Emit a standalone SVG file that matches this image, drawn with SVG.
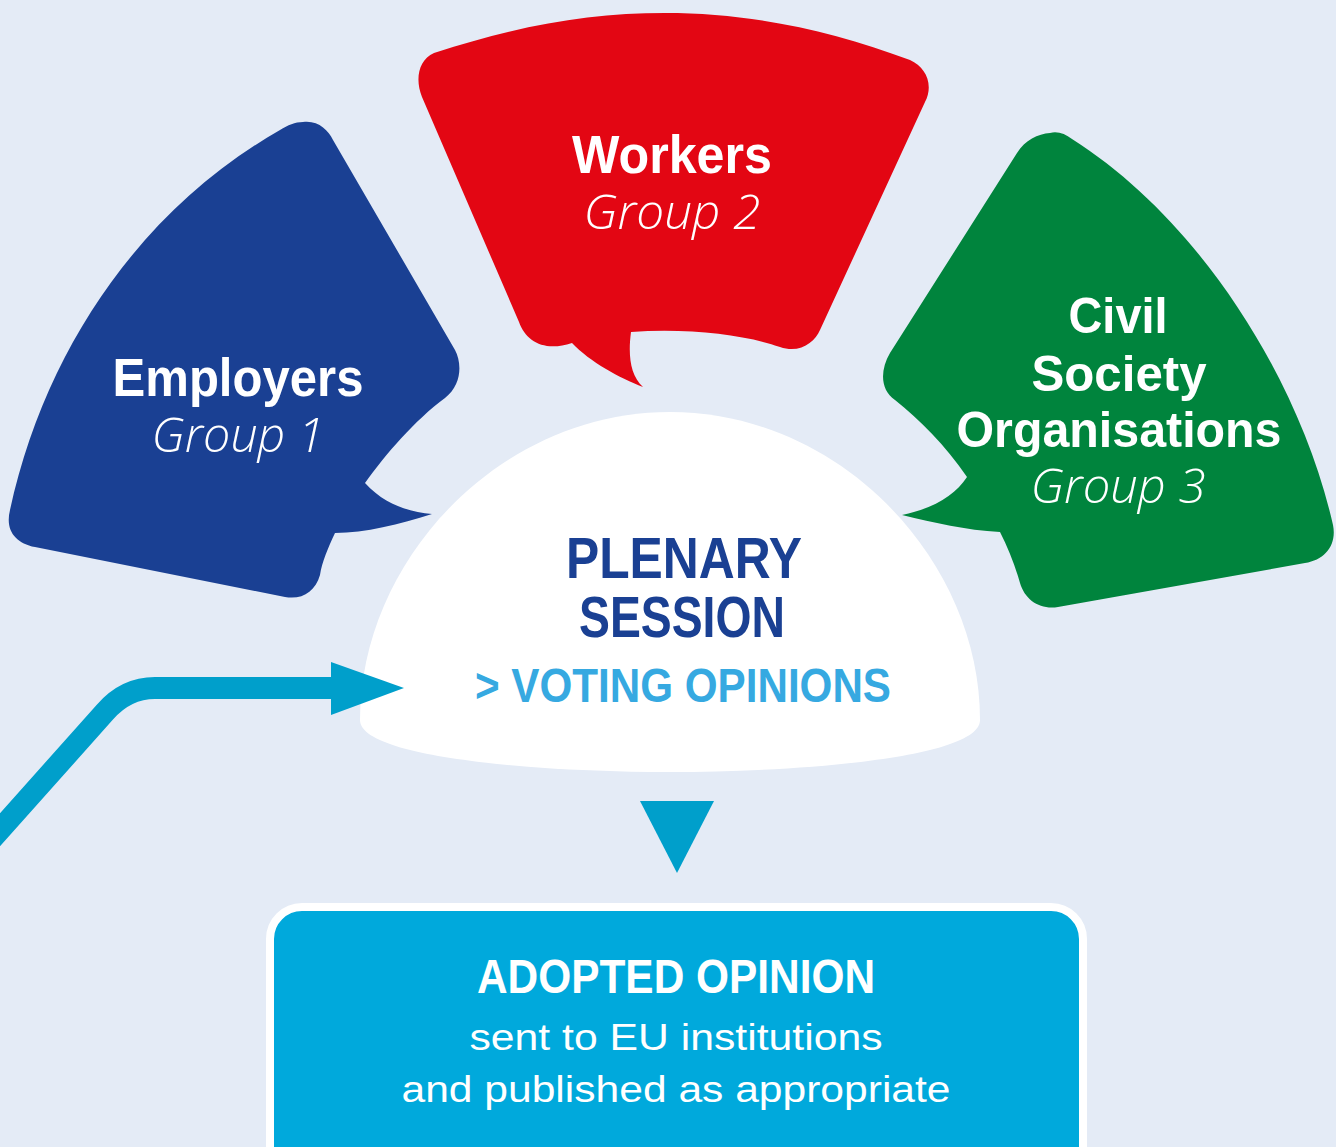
<svg xmlns="http://www.w3.org/2000/svg" width="1336" height="1147" viewBox="0 0 1336 1147">
<style>
.t{font-family:"Liberation Sans","Open Sans",sans-serif;text-anchor:middle;fill:#fff}
.b{font-weight:bold}
.g{font-style:italic;font-weight:300;font-family:"Open Sans","Liberation Sans",sans-serif}
.conn{fill:none;stroke:#009fcb;stroke-width:22}
</style>
<rect x="0" y="0" width="1336" height="1147" fill="#e4ebf6"/>
<g id="employers">
<path fill="#1a4093" d="M 303 122 C 318 120 328 130 333 140 L 455 350 C 462 363 462 385 445 398 C 415 420 385 455 365 483 C 385 505 410 512 432 514 C 400 524 365 533 335 533 C 328 548 322 562 320 575 C 315 592 302 600 285 597 L 35 547 C 15 543 5 530 10 510 C 45 350 140 210 280 130 C 288 125 295 122 303 122 Z"/>
<text class="t b" x="238" y="396" font-size="53" textLength="251" lengthAdjust="spacingAndGlyphs">Employers</text>
<text class="t g" x="238" y="452" font-size="48" textLength="173" lengthAdjust="spacingAndGlyphs">Group 1</text>
</g>
<g id="workers">
<path fill="#e30613" d="M 434 53 C 520 25 590 13 665 13 C 750 13 830 30 910 60 C 926 67 934 85 925 102 L 820 330 C 815 342 800 354 780 347 C 745 335 690 328 631 332 C 628 355 630 375 643 387 C 620 378 590 362 572 343 C 545 352 526 342 519 322 L 422 97 C 415 80 418 60 434 53 Z"/>
<text class="t b" x="672" y="173" font-size="53" textLength="200" lengthAdjust="spacingAndGlyphs">Workers</text>
<text class="t g" x="672" y="229" font-size="48" textLength="177" lengthAdjust="spacingAndGlyphs">Group 2</text>
</g>
<g id="civil-society">
<path fill="#00843d" d="M 1050 133 C 1058 131 1065 134 1072 139 C 1200 220 1300 380 1333 525 C 1337 545 1325 560 1305 563 L 1058 607 C 1040 610 1025 600 1020 583 C 1015 565 1008 548 1000 532 C 965 530 935 523 902 515 C 935 508 955 495 967 477 C 945 445 920 420 895 400 C 880 390 880 370 890 353 L 1017 153 C 1025 140 1038 134 1050 133 Z"/>
<text class="t b" x="1118" y="333" font-size="50" textLength="99" lengthAdjust="spacingAndGlyphs">Civil</text>
<text class="t b" x="1119" y="391" font-size="50" textLength="175" lengthAdjust="spacingAndGlyphs">Society</text>
<text class="t b" x="1119" y="447" font-size="50" textLength="325" lengthAdjust="spacingAndGlyphs">Organisations</text>
<text class="t g" x="1118" y="503" font-size="48" textLength="175" lengthAdjust="spacingAndGlyphs">Group 3</text>
</g>
<g id="plenary">
<path fill="#ffffff" d="M 360 720 C 360 560 500 412 670 412 C 840 412 980 560 980 720 C 980 758 800 772 670 772 C 540 772 360 758 360 720 Z"/>
<text class="t b" x="684" y="578" font-size="58" style="fill:#1a4093" textLength="236" lengthAdjust="spacingAndGlyphs">PLENARY</text>
<text class="t b" x="682" y="637" font-size="58" style="fill:#1a4093" textLength="206" lengthAdjust="spacingAndGlyphs">SESSION</text>
<text class="t b" x="683" y="702" font-size="48" style="fill:#36a9e1" textLength="416" lengthAdjust="spacingAndGlyphs">&gt; VOTING OPINIONS</text>
</g>
<g id="adopted-opinion">
<rect x="270" y="907" width="813" height="300" rx="32" fill="#00a9dc" stroke="#ffffff" stroke-width="8"/>
<text class="t b" x="676" y="993" font-size="48" textLength="398" lengthAdjust="spacingAndGlyphs">ADOPTED OPINION</text>
<text class="t" x="676" y="1050" font-size="36" textLength="413" lengthAdjust="spacingAndGlyphs">sent to EU institutions</text>
<text class="t" x="676" y="1102" font-size="36" textLength="549" lengthAdjust="spacingAndGlyphs">and published as appropriate</text>
</g>
<g id="connectors">
<path class="conn" d="M -10 841 L 105 712 Q 126 688 155 688 L 335 688"/>
<polygon fill="#009fcb" points="331,662 404,688 331,715"/>
<polygon fill="#009fcb" points="640,801 714,801 677,873"/>
</g>
</svg>
